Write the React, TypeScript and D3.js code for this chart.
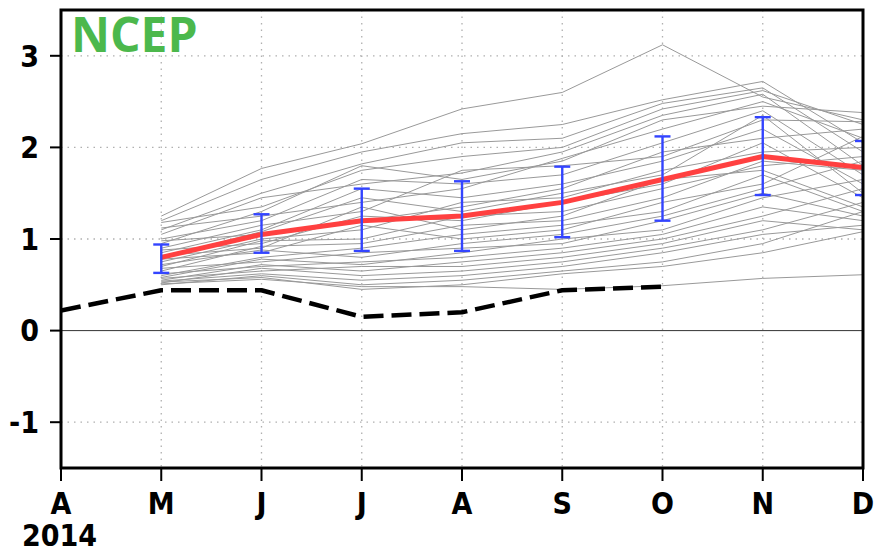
import React from "react";
import * as d3 from "d3";

const months = ["A", "M", "J", "J", "A", "S", "O", "N", "D"];
const yearLabel = "2014";
const yTicks = [-1, 0, 1, 2, 3];
const title = "NCEP";

// observed (dashed), months A..O
const observed = [0.22, 0.44, 0.44, 0.15, 0.2, 0.44, 0.48];

// ensemble mean, months M..D
const ensMean = [0.8, 1.05, 1.2, 1.25, 1.4, 1.65, 1.9, 1.78];
const ensLow = [0.63, 0.85, 0.87, 0.87, 1.02, 1.2, 1.48, 1.48];
const ensHigh = [0.94, 1.27, 1.55, 1.63, 1.79, 2.12, 2.33, 2.07];

// ensemble members, months M..D
const members = [
  [1.25, 1.77, 2.04, 2.42, 2.6, 3.12, 2.55, 2.3],
  [1.2, 1.65, 1.95, 2.15, 2.25, 2.52, 2.72, 2.05],
  [1.1, 1.5, 1.82, 2.05, 2.1, 2.48, 2.65, 1.95],
  [1.18, 1.35, 1.75, 1.9, 2.0, 2.42, 2.62, 2.25],
  [1.05, 1.45, 1.6, 1.72, 1.95, 2.35, 2.58, 1.8],
  [0.95, 1.3, 1.8, 1.65, 1.85, 2.3, 2.45, 2.38],
  [1.12, 1.25, 1.4, 1.55, 1.88, 2.2, 2.5, 2.1],
  [1.0, 1.2, 1.65, 1.6, 1.7, 2.05, 2.4, 1.7],
  [0.9, 1.15, 1.3, 1.75, 1.8, 1.9, 2.3, 2.28],
  [0.85, 1.1, 1.55, 1.45, 1.6, 1.85, 2.2, 1.6],
  [0.98, 1.05, 1.2, 1.35, 1.55, 1.95, 2.1, 2.2],
  [0.8, 1.08, 1.45, 1.3, 1.5, 1.7, 2.35, 1.5],
  [0.75, 1.0, 1.1, 1.4, 1.45, 1.75, 1.95, 2.0],
  [0.88, 0.95, 1.25, 1.2, 1.4, 1.6, 2.05, 1.45],
  [0.7, 0.98, 1.0, 1.25, 1.3, 1.55, 1.8, 1.9],
  [0.82, 0.9, 1.35, 1.1, 1.25, 1.65, 1.75, 1.35],
  [0.65, 0.92, 0.95, 1.15, 1.2, 1.45, 1.85, 1.75],
  [0.78, 0.85, 1.15, 1.0, 1.1, 1.4, 1.6, 2.12],
  [0.6, 0.8, 0.9, 1.05, 1.15, 1.3, 1.7, 1.3],
  [0.72, 0.88, 0.8, 0.95, 1.05, 1.25, 1.55, 1.85],
  [0.68, 0.75, 0.85, 0.9, 0.95, 1.2, 1.5, 1.25],
  [0.58, 0.78, 0.72, 0.85, 1.0, 1.1, 1.45, 1.65],
  [0.62, 0.7, 0.75, 0.8, 0.9, 1.05, 1.35, 1.2],
  [0.55, 0.72, 0.65, 0.75, 0.85, 1.0, 1.25, 1.55],
  [0.57, 0.65, 0.7, 0.7, 0.8, 0.95, 1.2, 1.1],
  [0.52, 0.68, 0.6, 0.65, 0.75, 0.9, 1.1, 1.4],
  [0.54, 0.62, 0.55, 0.6, 0.7, 0.85, 1.05, 1.15],
  [0.5, 0.6, 0.5, 0.55, 0.65, 0.75, 0.95, 1.3],
  [0.53, 0.58, 0.45, 0.5, 0.62, 0.7, 0.85, 1.08],
  [0.51, 0.56, 0.48, 0.48, 0.45, 0.49, 0.57, 0.61],
];

const W = 877;
const H = 552;
const L = 61, R = 863, T = 10, B = 468;

export default function App() {
  const x = d3.scaleLinear().domain([0, months.length - 1]).range([L, R]);
  const y = d3.scaleLinear().domain([-1.5, 3.5]).range([B, T]);
  const line = d3
    .line<[number, number]>()
    .x((d) => x(d[0]))
    .y((d) => y(d[1]));
  const fromM = (arr: number[]) => arr.map((v, i) => [i + 1, v] as [number, number]);
  const fromA = (arr: number[]) => arr.map((v, i) => [i, v] as [number, number]);
  const font = "'DejaVu Sans Condensed', 'DejaVu Sans', sans-serif";

  return (
    <svg width={W} height={H} style={{ position: "absolute", left: 0, top: 0 }}>
      <defs>
        <clipPath id="plot">
          <rect x={L} y={T} width={R - L} height={B - T} />
        </clipPath>
      </defs>
      <rect x={0} y={0} width={W} height={H} fill="#fff" />
      {/* grid */}
      <g stroke="#b0b0b0" strokeWidth={1.3} strokeDasharray="1.5 5">
        {yTicks
          .filter((t) => t !== 0)
          .map((t) => (
            <line key={"gy" + t} x1={L} x2={R} y1={y(t)} y2={y(t)} />
          ))}
        {months.slice(1, -1).map((m, i) => (
          <line key={"gx" + i} x1={x(i + 1)} x2={x(i + 1)} y1={T} y2={B} />
        ))}
      </g>
      <line x1={L} x2={R} y1={y(0)} y2={y(0)} stroke="#333" strokeWidth={1} />
      <g clipPath="url(#plot)">
        {members.map((m, i) => (
          <path key={"m" + i} d={line(fromM(m)) || ""} fill="none" stroke="#999" strokeWidth={1} />
        ))}
        <path d={line(fromA(observed)) || ""} fill="none" stroke="#000" strokeWidth={4.5} strokeDasharray="20 8" strokeLinejoin="round" />
        <path d={line(fromM(ensMean)) || ""} fill="none" stroke="#ff4040" strokeWidth={5} strokeLinejoin="round" />
        <g stroke="#3344ff" strokeWidth={2.4}>
          {ensLow.map((lo, i) => {
            const cx = x(i + 1);
            return (
              <g key={"eb" + i}>
                <line x1={cx} x2={cx} y1={y(lo)} y2={y(ensHigh[i])} />
                <line x1={cx - 8} x2={cx + 8} y1={y(lo)} y2={y(lo)} />
                <line x1={cx - 8} x2={cx + 8} y1={y(ensHigh[i])} y2={y(ensHigh[i])} />
              </g>
            );
          })}
        </g>
      </g>
      {/* frame */}
      <rect x={L} y={T} width={R - L} height={B - T} fill="none" stroke="#000" strokeWidth={3} />
      {/* ticks and labels */}
      <g fontFamily={font} fontWeight="bold" fontSize={30} fontStretch="condensed">
        {yTicks.map((t) => (
          <g key={"yt" + t}>
            <line x1={L - 11} x2={L} y1={y(t)} y2={y(t)} stroke="#000" strokeWidth={2} />
            <text x={39} y={y(t)} dy="0.36em" textAnchor="end" fill="#000">
              {t}
            </text>
          </g>
        ))}
        {months.map((m, i) => (
          <g key={"xt" + i}>
            <line x1={x(i)} x2={x(i)} y1={B} y2={B + 13} stroke="#000" strokeWidth={2} />
            <text x={x(i)} y={514} textAnchor="middle" fill="#000">
              {m}
            </text>
          </g>
        ))}
        <text x={22} y={546} fill="#000">
          {yearLabel}
        </text>
      </g>
      <text x={71} y={52} fontFamily="'Open Sans', 'Noto Sans', sans-serif" fontWeight="bold" fontSize={48} fill="#4cb84c">
        {title}
      </text>
    </svg>
  );
}
